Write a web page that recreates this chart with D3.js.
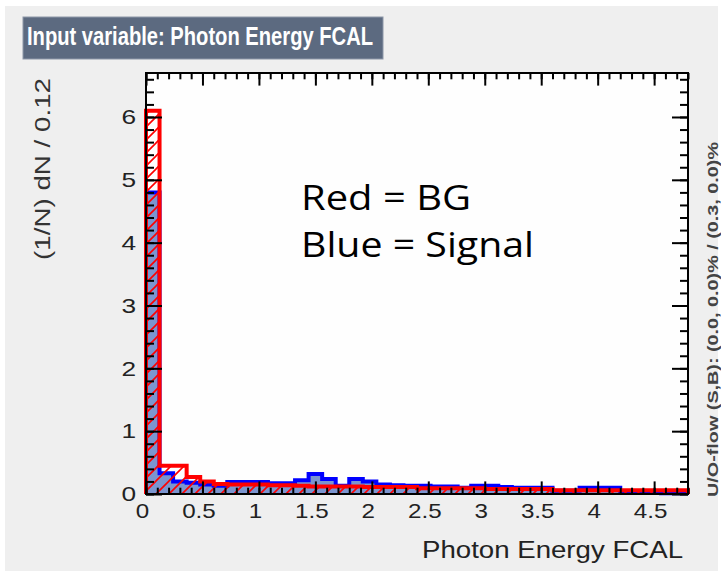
<!DOCTYPE html>
<html>
<head>
<meta charset="utf-8">
<script src="https://cdn.jsdelivr.net/npm/d3@7"></script>
<style>
  body { margin: 0; background: #fff; }
  text { font-family: "Liberation Sans", Arial, sans-serif; }
</style>
</head>
<body>
<div id="wall"></div>
<script>
// binning of the histograms (0.12 wide bins from 0 to 4.8)
const binWidth = 0.12
const nBins = 40

// background (red) and signal (blue), normalised (1/N) dN / 0.12
const bgValues = [6.10, 0.45, 0.45, 0.27, 0.20, 0.16, 0.15, 0.15, 0.15, 0.14,
                  0.14, 0.13, 0.12, 0.12, 0.12, 0.12, 0.11, 0.11, 0.11, 0.11,
                  0.09, 0.09, 0.09, 0.09, 0.09, 0.08, 0.08, 0.08, 0.08, 0.08,
                  0.06, 0.06, 0.06, 0.06, 0.06, 0.06, 0.06, 0.06, 0.06, 0.06]
const sigValues = [4.80, 0.33, 0.20, 0.18, 0.15, 0.13, 0.19, 0.19, 0.19, 0.17,
                   0.17, 0.22, 0.32, 0.24, 0.13, 0.24, 0.20, 0.15, 0.14, 0.13,
                   0.13, 0.12, 0.12, 0.10, 0.13, 0.13, 0.11, 0.10, 0.10, 0.10,
                   0.05, 0.05, 0.10, 0.10, 0.10, 0.03, 0.02, 0.02, 0.01, 0.01]

const xMajorTicks = [0, 0.5, 1, 1.5, 2, 2.5, 3, 3.5, 4, 4.5]
const yMajorTicks = [0, 1, 2, 3, 4, 5, 6]

const titleText = "Input variable: Photon Energy FCAL"
const xTitle = "Photon Energy FCAL"
const yTitle = "(1/N) dN / 0.12"
const flowText = "U/O-flow (S,B): (0.0, 0.0)% / (0.3, 0.0)%"
const noteLines = ["Red = BG", "Blue = Signal"]

const width = 721, height = 571
const svg = d3.select("#wall").append("svg")
    .attr("width", width).attr("height", height)

svg.append("rect").attr("width", width).attr("height", height).attr("fill", "#fff")
svg.append("rect").attr("x", 5).attr("y", 6).attr("width", 713).attr("height", 565).attr("fill", "#efefef")

const x = d3.scaleLinear().domain([0, nBins * binWidth]).range([146, 688])
const y = d3.scaleLinear().domain([0, 6.7]).range([494, 73])

// hatch for the background histogram
const defs = svg.append("defs")
const pat = defs.append("pattern").attr("id", "hatch")
    .attr("patternUnits", "userSpaceOnUse").attr("width", 13).attr("height", 13)
pat.append("path").attr("d", "M0,13 L13,0 M-3,3 L3,-3 M10,16 L16,10")
    .attr("stroke", "#ff0000").attr("stroke-width", 1.6)

// frame
svg.append("rect").attr("x", x(0)).attr("y", y(6.7))
    .attr("width", x(4.8) - x(0)).attr("height", y(0) - y(6.7))
    .attr("fill", "#fefefe")

function stepPath(vals) {
  let p = d3.path()
  p.moveTo(x(0), y(0))
  vals.forEach((v, i) => {
    p.lineTo(x(i * binWidth), y(v))
    p.lineTo(x((i + 1) * binWidth), y(v))
  })
  p.lineTo(x(vals.length * binWidth), y(0))
  return p.toString()
}

svg.append("path").attr("d", stepPath(sigValues) + "Z").attr("fill", "#7b95cf")
svg.append("path").attr("d", stepPath(sigValues)).attr("fill", "none")
    .attr("stroke", "#0000ff").attr("stroke-width", 4)
svg.append("path").attr("d", stepPath(bgValues) + "Z").attr("fill", "url(#hatch)")
svg.append("path").attr("d", stepPath(bgValues)).attr("fill", "none")
    .attr("stroke", "#ff0000").attr("stroke-width", 4)

// axes, ticks pointing inwards like ROOT
const xMinor = d3.range(0, 49).map(d => d / 10)
const yMinor = d3.range(0, 34).map(d => d / 5)

function clean(g) {
  g.select(".domain").remove()
  g.selectAll("line").attr("stroke", "#000").attr("stroke-width", 2)
}

svg.append("g").attr("transform", `translate(0,${y(0)})`)
    .call(d3.axisBottom(x).tickValues(xMinor).tickSize(-6.3).tickFormat(""))
    .call(clean)
const xAxis = svg.append("g").attr("transform", `translate(0,${y(0)})`)
    .call(d3.axisBottom(x).tickValues(xMajorTicks).tickSize(-12.6).tickPadding(9).tickFormat(d3.format("")))
    .call(clean)
svg.append("g").attr("transform", `translate(0,${y(6.7)})`)
    .call(d3.axisTop(x).tickValues(xMinor).tickSize(-6.3).tickFormat(""))
    .call(clean)
svg.append("g").attr("transform", `translate(0,${y(6.7)})`)
    .call(d3.axisTop(x).tickValues(xMajorTicks).tickSize(-12.6).tickFormat(""))
    .call(clean)

svg.append("g").attr("transform", `translate(${x(0)},0)`)
    .call(d3.axisLeft(y).tickValues(yMinor).tickSize(-8).tickFormat(""))
    .call(clean)
const yAxis = svg.append("g").attr("transform", `translate(${x(0)},0)`)
    .call(d3.axisLeft(y).tickValues(yMajorTicks).tickSize(-16).tickPadding(10).tickFormat(d3.format("")))
    .call(clean)
svg.append("g").attr("transform", `translate(${x(4.8)},0)`)
    .call(d3.axisRight(y).tickValues(yMinor).tickSize(-8).tickFormat(""))
    .call(clean)
svg.append("g").attr("transform", `translate(${x(4.8)},0)`)
    .call(d3.axisRight(y).tickValues(yMajorTicks).tickSize(-16).tickFormat(""))
    .call(clean)

svg.append("rect").attr("x", x(0)).attr("y", y(6.7))
    .attr("width", x(4.8) - x(0)).attr("height", y(0) - y(6.7))
    .attr("fill", "none").attr("stroke", "#000").attr("stroke-width", 2)

// ROOT labels look stretched sideways
function stretch(sel, k) {
  sel.each(function(){
    const len = this.getComputedTextLength()
    d3.select(this).attr("textLength", len * k).attr("lengthAdjust", "spacingAndGlyphs")
  })
}
xAxis.selectAll("text").attr("font-size", 21).attr("fill", "#222").attr("dx", -4)
    .style("font-family", "Liberation Sans, Arial, sans-serif").call(stretch, 1.15)
yAxis.selectAll("text").attr("font-size", 21).attr("fill", "#222")
    .style("font-family", "Liberation Sans, Arial, sans-serif").call(stretch, 1.25)

// titles
svg.append("rect").attr("x", 23).attr("y", 17).attr("width", 360).attr("height", 42)
    .attr("fill", "#5c6a80").attr("stroke", "#8d97a8").attr("stroke-width", 1)
svg.append("text").attr("x", 27).attr("y", 45).text(titleText)
    .attr("font-size", 25).attr("font-weight", "bold").attr("fill", "#fff")
    .attr("textLength", 346).attr("lengthAdjust", "spacingAndGlyphs")

svg.append("text").attr("x", 683).attr("y", 558).attr("text-anchor", "end")
    .text(xTitle).attr("font-size", 23).attr("fill", "#222")
    .attr("textLength", 261).attr("lengthAdjust", "spacingAndGlyphs")

svg.append("text").attr("transform", "translate(50,78) rotate(-90)")
    .attr("text-anchor", "end").text(yTitle)
    .attr("font-size", 22).attr("fill", "#333")
    .attr("textLength", 182).attr("lengthAdjust", "spacingAndGlyphs")

svg.append("text").attr("transform", "translate(718,497) rotate(-90)")
    .text(flowText).attr("font-size", 14).attr("font-weight", "bold").attr("fill", "#444")
    .attr("textLength", 355).attr("lengthAdjust", "spacingAndGlyphs")

// note written over the plot
const noteWidths = [170, 233]
svg.selectAll(".note").data(noteLines).enter().append("text")
    .attr("class", "note")
    .attr("x", 301).attr("y", (d, i) => 210 + i * 47)
    .text(d => d)
    .style("font-family", "'Open Sans', 'Noto Sans', sans-serif")
    .attr("font-size", 34).attr("fill", "#000")
    .attr("textLength", (d, i) => noteWidths[i]).attr("lengthAdjust", "spacingAndGlyphs")
</script>
</body>
</html>
